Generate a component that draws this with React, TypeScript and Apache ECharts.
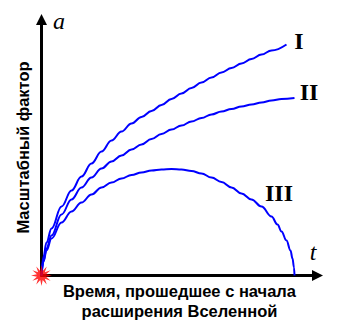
import React, { useEffect, useRef } from "react";
import * as echarts from "echarts";

// Data (x: time units, y: scale factor units)
const curveI: [number, number][] = [
  [0, 0], [2, 19], [5, 33], [10, 47], [20, 69], [30, 85], [40, 99], [50, 112], [60, 124],
  [70, 135], [80, 144], [90, 152], [100, 158.5], [110, 164.5], [120, 170.5], [130, 176.5],
  [140, 182], [150, 187.5], [160, 193], [170, 198], [180, 203], [190, 207.5], [200, 212],
  [210, 216.5], [220, 221], [230, 225], [245, 231],
];
const curveII: [number, number][] = [
  [0, 0], [2, 15], [5, 27], [10, 40], [20, 61], [30, 76], [40, 88], [50, 98], [60, 107],
  [70, 114], [80, 120], [90, 126], [100, 131], [110, 136.5], [120, 141.5], [130, 146],
  [140, 150], [150, 154], [160, 157.5], [170, 161], [180, 164], [190, 166.5], [200, 169],
  [210, 171], [220, 173], [230, 175], [240, 176.5], [253, 177.5],
];
const curveIII: [number, number][] = [
  [0, 0], [2, 14], [5, 25], [10, 37], [20, 53], [30, 64], [40, 73], [50, 81], [60, 88],
  [70, 93], [80, 97], [90, 100.5], [100, 103], [110, 105], [120, 106], [130, 106.5],
  [140, 106], [150, 104.5], [160, 102], [170, 98], [180, 93.5], [190, 88], [200, 82],
  [210, 76], [220, 69], [230, 59], [236, 51], [240, 44], [245, 35], [249, 25], [251, 17],
  [252.5, 8], [253, 0],
];
const origin: [number, number][] = [[0, 0]];
const curveNames = ["I", "II", "III"];
const xName = "Время, прошедшее с начала\nрасширения Вселенной";
const yName = "Масштабный фактор";
const xMax = 276;
const yMax = 256;

const starPath =
  "path://" +
  Array.from({ length: 24 }, (_, i) => {
    const r = i % 2 === 0 ? 10 : 4.5;
    const a = (i * Math.PI) / 12;
    return `${i === 0 ? "M" : "L"}${(10 + r * Math.sin(a)).toFixed(2)},${(10 - r * Math.cos(a)).toFixed(2)}`;
  }).join(" ") +
  " Z";

export default function App() {
  const ref = useRef<HTMLDivElement>(null);
  useEffect(() => {
    if (!ref.current) return;
    const chart = echarts.init(ref.current, null, { renderer: "svg" });
    const lineSeries = [curveI, curveII, curveIII].map((d, i) => ({
      type: "line",
      name: curveNames[i],
      data: d,
      showSymbol: false,
      symbol: "none",
      smooth: 0.4,
      smoothMonotone: "x",
      clip: false,
      lineStyle: { color: "#0000ff", width: 2 },
      z: 3,
    }));
    const nameFont = {
      fontFamily: "Liberation Sans",
      fontWeight: "bold",
      fontSize: 16.5,
      color: "#000",
    };
    const axisLine = {
      show: true,
      symbol: ["none", "triangle"],
      symbolSize: [11, 11],
      lineStyle: { color: "#000", width: 3 },
    };
    chart.setOption({
      animation: false,
      backgroundColor: "#ffffff",
      grid: { left: 41.5, right: 24.5, top: 19.5, bottom: 60.5 },
      xAxis: {
        type: "value",
        min: 0,
        max: xMax,
        name: xName,
        nameLocation: "middle",
        nameGap: 5,
        nameTextStyle: { ...nameFont, lineHeight: 20 },
        axisLine,
        axisTick: { show: false },
        axisLabel: { show: false },
        splitLine: { show: false },
      },
      yAxis: {
        type: "value",
        min: 0,
        max: yMax,
        name: yName,
        nameLocation: "middle",
        nameGap: 10,
        nameTextStyle: nameFont,
        axisLine,
        axisTick: { show: false },
        axisLabel: { show: false },
        splitLine: { show: false },
      },
      series: [
        ...lineSeries,
        {
          type: "scatter",
          data: origin,
          symbol: starPath,
          symbolSize: 21,
          clip: false,
          itemStyle: { color: "#ff0000" },
          z: 5,
        },
      ],
      graphic: [
        { type: "text", x: 299, y: 41, style: { text: "I", font: "bold 24px 'Liberation Serif'", fill: "#000", textAlign: "center", textVerticalAlign: "middle" } },
        { type: "text", x: 309, y: 92, style: { text: "II", font: "bold 24px 'Liberation Serif'", fill: "#000", textAlign: "center", textVerticalAlign: "middle" } },
        { type: "text", x: 279, y: 193, style: { text: "III", font: "bold 24px 'Liberation Serif'", fill: "#000", textAlign: "center", textVerticalAlign: "middle" } },
        { type: "text", x: 59, y: 21, style: { text: "a", font: "italic 24px 'Liberation Serif'", fill: "#000", textAlign: "center", textVerticalAlign: "middle" } },
        { type: "text", x: 313, y: 252, style: { text: "t", font: "italic 24px 'Liberation Serif'", fill: "#000", textAlign: "center", textVerticalAlign: "middle" } },
      ],
    });
    return () => chart.dispose();
  }, []);
  return <div ref={ref} style={{ width: 342, height: 336, position: "absolute", left: 0, top: 0 }} />;
}
